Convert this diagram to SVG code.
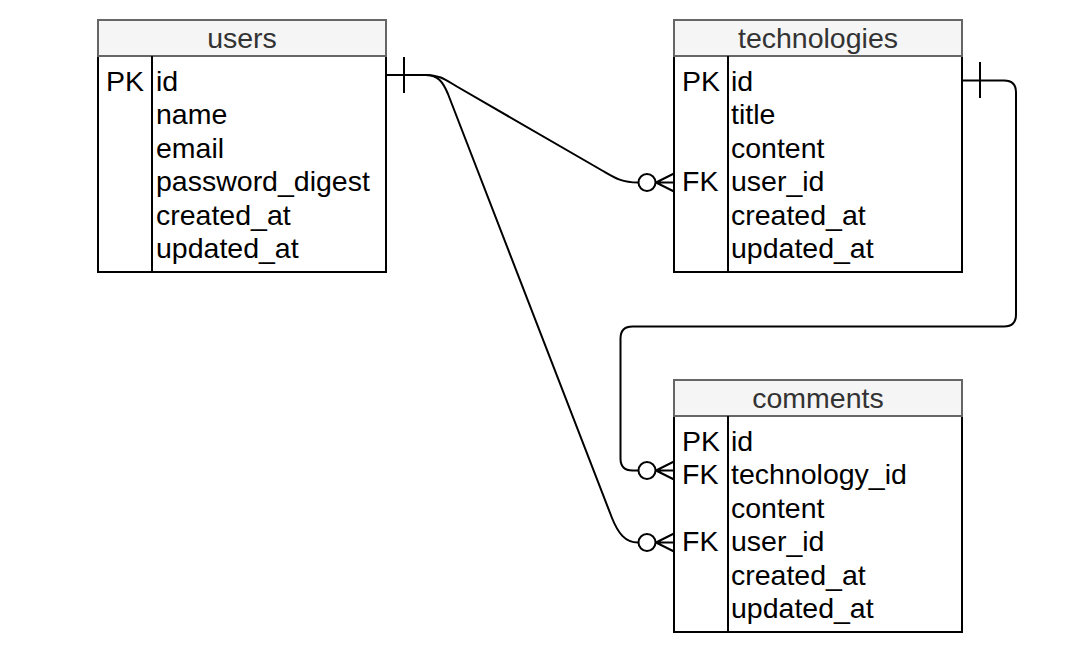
<svg xmlns="http://www.w3.org/2000/svg" width="1087" height="650" viewBox="0 0 1087 650">
<style>
.hdr{fill:#f5f5f5;stroke:#666666;stroke-width:2}
.body{fill:#ffffff;stroke:#000000;stroke-width:2}
.div{stroke:#000000;stroke-width:2}
text{font-family:"Liberation Sans",Arial,sans-serif;font-size:28.5px;fill:#000000}
.title{fill:#333333;text-anchor:middle}
.edge{fill:none;stroke:#000000;stroke-width:2}
.ring{fill:#ffffff;stroke:#000000;stroke-width:2}
</style>
<rect width="1087" height="650" fill="#ffffff"/>
<g id="users">
<rect class="body" x="98" y="56" width="288" height="216"/>
<rect class="hdr" x="98" y="20" width="288" height="36"/>
<line class="div" x1="152" y1="56" x2="152" y2="272"/>
<text class="title" x="242" y="47.5">users</text>
<text x="106" y="90.5">PK</text>
<text x="156" y="90.5">id</text>
<text x="156" y="124">name</text>
<text x="156" y="157.5">email</text>
<text x="156" y="191">password_digest</text>
<text x="156" y="224.5">created_at</text>
<text x="156" y="258">updated_at</text>
</g>
<g id="technologies">
<rect class="body" x="674" y="56" width="288" height="216"/>
<rect class="hdr" x="674" y="20" width="288" height="36"/>
<line class="div" x1="728" y1="56" x2="728" y2="272"/>
<text class="title" x="818" y="47.5">technologies</text>
<text x="682" y="90.5">PK</text>
<text x="731" y="90.5">id</text>
<text x="731" y="124">title</text>
<text x="731" y="157.5">content</text>
<text x="682" y="191">FK</text>
<text x="731" y="191">user_id</text>
<text x="731" y="224.5">created_at</text>
<text x="731" y="258">updated_at</text>
</g>
<g id="comments">
<rect class="body" x="674" y="416" width="288" height="216"/>
<rect class="hdr" x="674" y="380" width="288" height="36"/>
<line class="div" x1="728" y1="416" x2="728" y2="632"/>
<text class="title" x="818" y="407.5">comments</text>
<text x="682" y="450.5">PK</text>
<text x="731" y="450.5">id</text>
<text x="682" y="484">FK</text>
<text x="731" y="484">technology_id</text>
<text x="731" y="517.5">content</text>
<text x="682" y="551">FK</text>
<text x="731" y="551">user_id</text>
<text x="731" y="584.5">created_at</text>
<text x="731" y="618">updated_at</text>
</g>
<g id="connectors">
<path class="edge" d="M386 75 L426 75 C440 75 446 80 456 86 L603 171 C615 178 622 182.5 638 182.5"/>
<line class="edge" x1="404" y1="57" x2="404" y2="93"/>
<circle class="ring" cx="647" cy="182.5" r="8.5"/>
<path class="edge" d="M656 182.5 L674 173.5 M656 182.5 L674 182.5 M656 182.5 L674 191.5"/>
<path class="edge" d="M426 75 C438 75 443 82 448 94 L612 518 C618 533 625 542.5 638 542.5"/>
<circle class="ring" cx="647" cy="542.5" r="8.5"/>
<path class="edge" d="M656 542.5 L674 533.5 M656 542.5 L674 542.5 M656 542.5 L674 551.5"/>
<path class="edge" d="M962 80.5 L1004 80.5 Q1016 80.5 1016 92.5 L1016 314.5 Q1016 326.5 1004 326.5 L632.5 326.5 Q620.5 326.5 620.5 338.5 L620.5 458.5 Q620.5 470.5 632.5 470.5 L638 470.5"/>
<line class="edge" x1="980" y1="62" x2="980" y2="98"/>
<circle class="ring" cx="647" cy="470.5" r="8.5"/>
<path class="edge" d="M656 470.5 L674 461.5 M656 470.5 L674 470.5 M656 470.5 L674 479.5"/>
</g>
</svg>
